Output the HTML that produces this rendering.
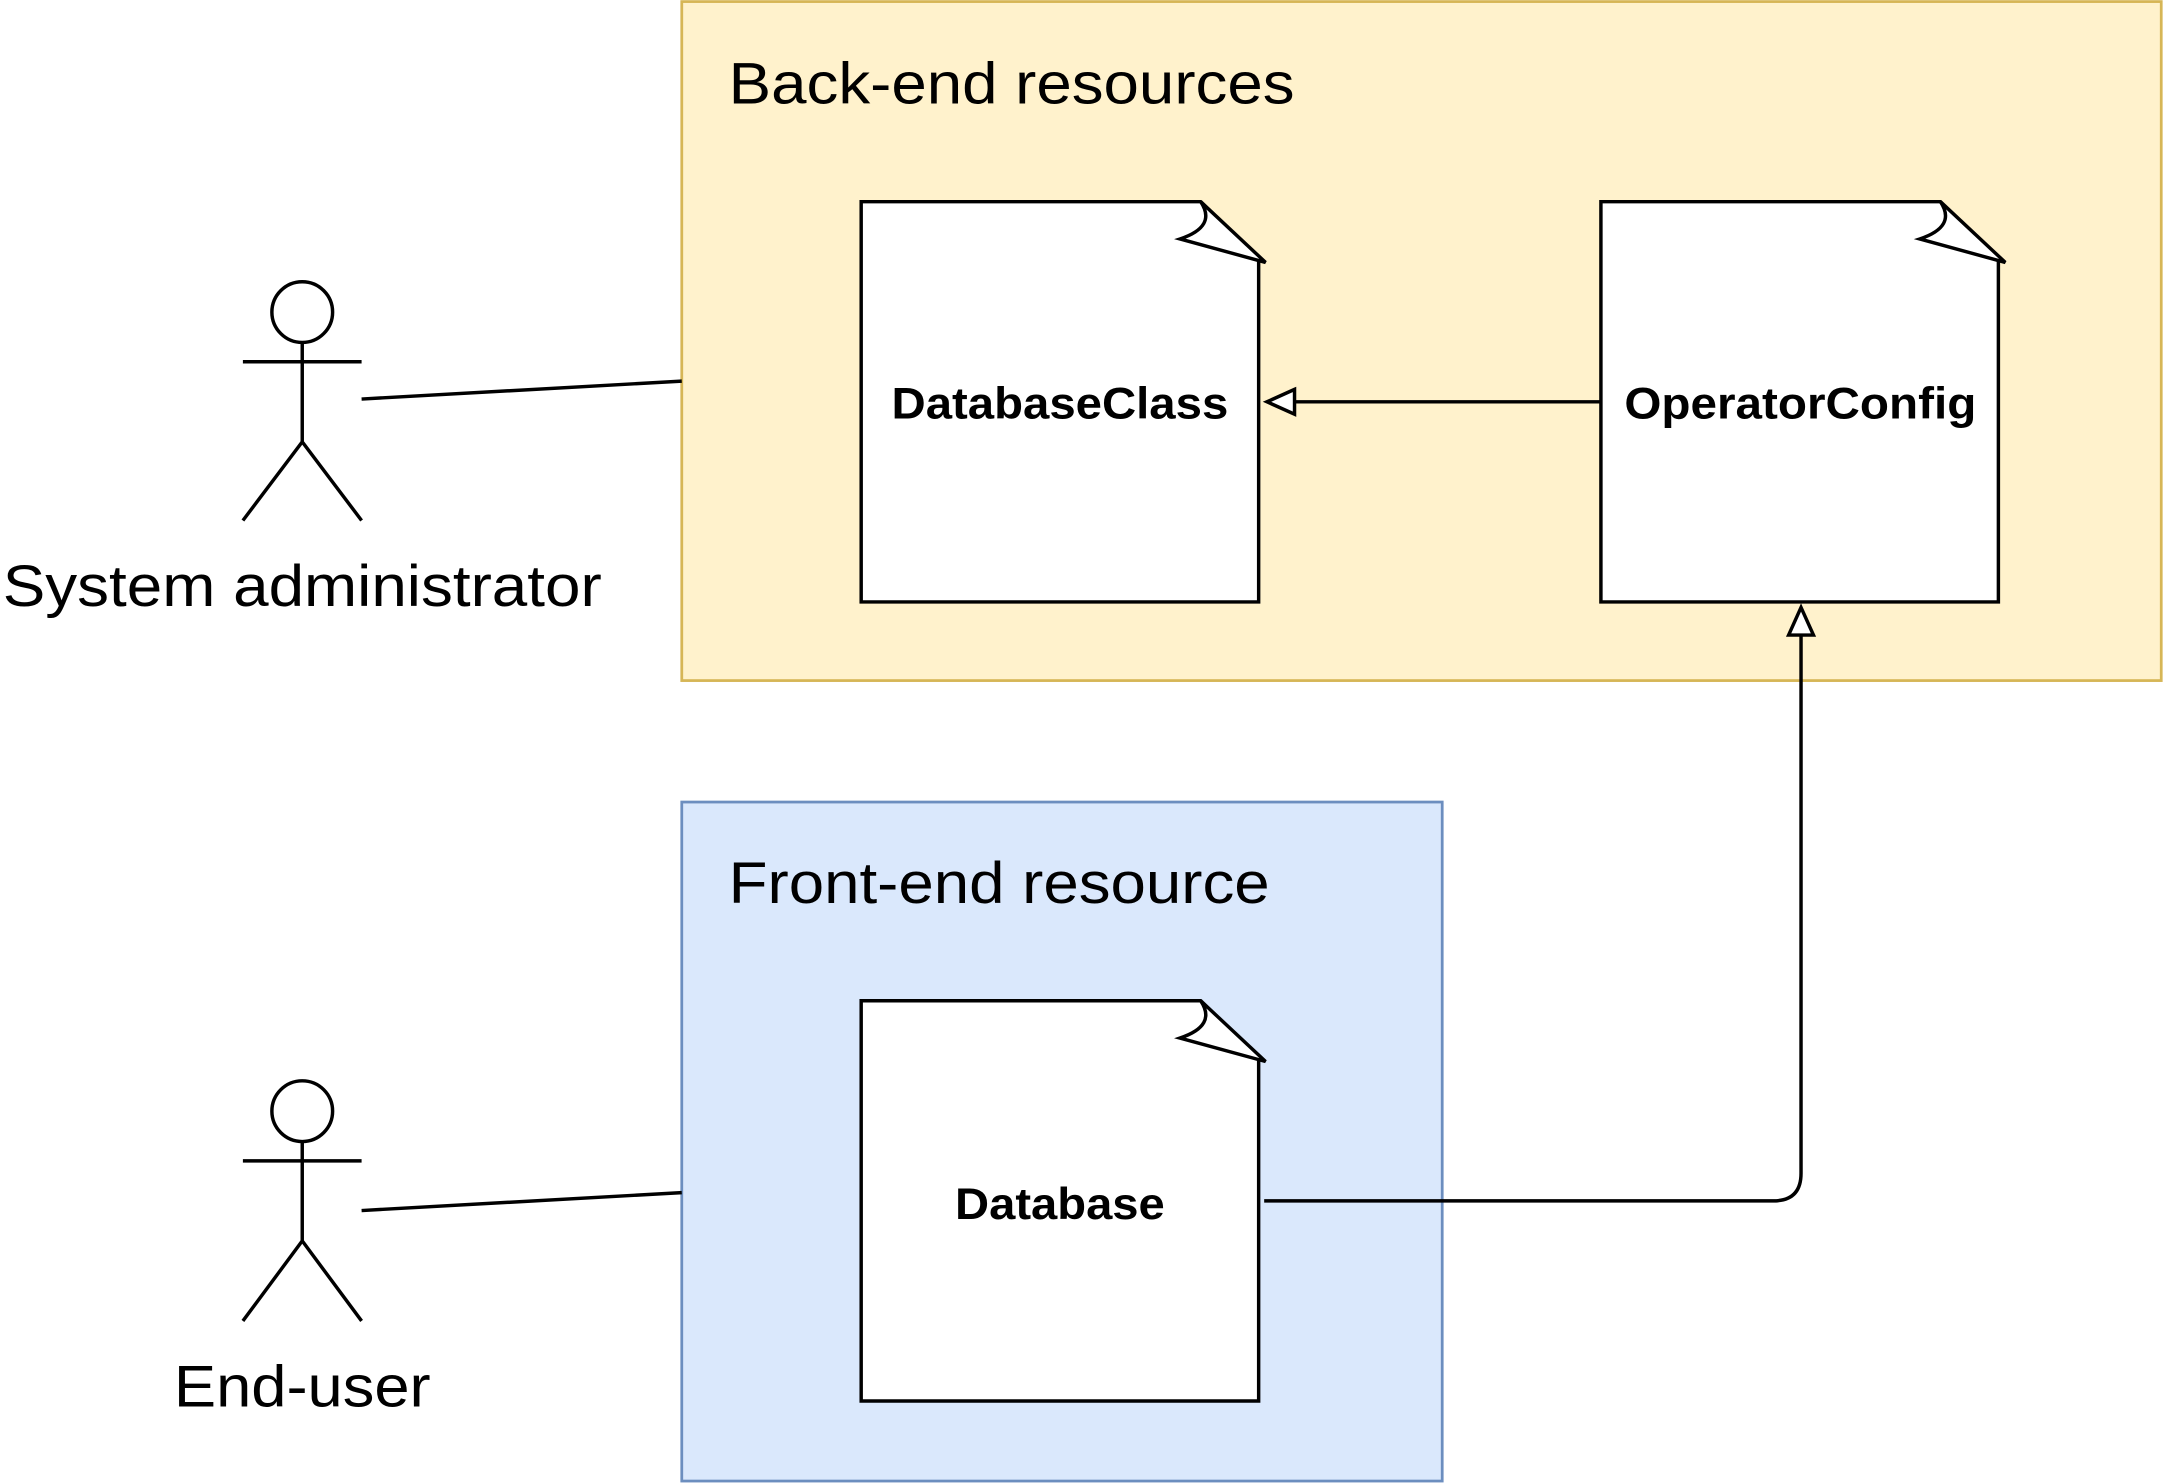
<!DOCTYPE html>
<html><head><style>html,body{margin:0;padding:0;background:#fff}svg{display:block}</style></head>
<body>
<svg width="2164" height="1484" viewBox="0 0 1568 1075" xmlns="http://www.w3.org/2000/svg" font-family="Liberation Sans, Arial, sans-serif">
<rect x="494" y="1" width="1072" height="492" fill="#fff2cc" stroke="#d6b656" stroke-width="2"/>
<text x="528" y="75" font-size="42" fill="#000" textLength="410" lengthAdjust="spacingAndGlyphs">Back-end resources</text>
<rect x="494" y="581" width="551" height="492" fill="#dae8fc" stroke="#6c8ebf" stroke-width="2"/>
<text x="528" y="654" font-size="42" fill="#000" textLength="392" lengthAdjust="spacingAndGlyphs">Front-end resource</text>
<g fill="#fff" stroke="#000" stroke-width="2.5" stroke-linejoin="miter">
<path d="M624,146 L870,146 L912,188 L912,436 L624,436 Z"/>
<path d="M870,146 Q882,164 855,173 L917,190 Z"/>
<path d="M1160,146 L1406,146 L1448,188 L1448,436 L1160,436 Z"/>
<path d="M1406,146 Q1418,164 1391,173 L1453,190 Z"/>
<path d="M624,725 L870,725 L912,767 L912,1015 L624,1015 Z"/>
<path d="M870,725 Q882,743 855,752 L917,769 Z"/>
</g>
<g font-size="32" font-weight="bold" fill="#000">
<text x="646" y="303" textLength="244" lengthAdjust="spacingAndGlyphs">DatabaseClass</text>
<text x="1177" y="303" textLength="255" lengthAdjust="spacingAndGlyphs">OperatorConfig</text>
<text x="692" y="883" textLength="152" lengthAdjust="spacingAndGlyphs">Database</text>
</g>
<g fill="none" stroke="#000" stroke-width="2.5">
<line x1="1160" y1="291" x2="938" y2="291"/>
<path d="M938,282 L918,291 L938,300 Z" fill="#fff"/>
<path d="M916,870 L1285,870 Q1305,870 1305,850 L1305,460"/>
<path d="M1296,460 L1305,440 L1314,460 Z" fill="#fff"/>
<line x1="262" y1="289" x2="494" y2="276"/>
<line x1="262" y1="877" x2="494" y2="864"/>
<circle cx="219" cy="226" r="22"/>
<path d="M219,248 V320 M176,262 H262 M176,377 L219,320 L262,377"/>
<circle cx="219" cy="805" r="22"/>
<path d="M219,827 V899 M176,841 H262 M176,957 L219,899 L262,957"/>
</g>
<g font-size="42" fill="#000">
<text x="2" y="439" textLength="434" lengthAdjust="spacingAndGlyphs">System administrator</text>
<text x="126" y="1019" textLength="186" lengthAdjust="spacingAndGlyphs">End-user</text>
</g>
</svg>
</body></html>
